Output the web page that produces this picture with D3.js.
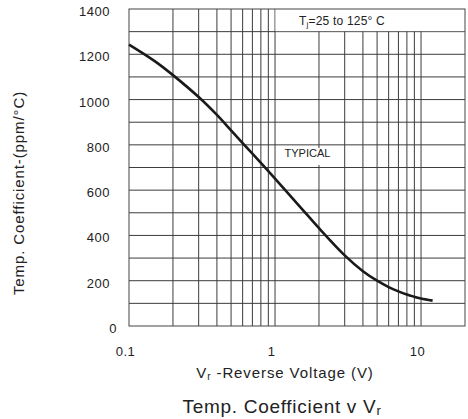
<!DOCTYPE html>
<html>
<head>
<meta charset="utf-8">
<script src="https://cdn.jsdelivr.net/npm/d3@7"></script>
<style>
  body { margin: 0; background: #fff; }
  text { font-family: "Liberation Sans", Arial, sans-serif; fill: #222; }
</style>
</head>
<body>
<div id="chart"></div>
<script>
// curve: reverse voltage (V) vs temp coefficient (ppm/°C)
const voltage = [0.1, 0.15, 0.2, 0.3, 0.4, 0.5, 0.6, 0.7, 0.8, 0.9, 1, 1.5, 2, 3, 4, 5, 6, 7, 8, 9, 10, 12];
const tempCoef = [1243, 1170, 1108, 1011, 932, 864, 808, 761, 720, 684, 651, 523, 432, 312, 242, 200, 172, 153, 139, 129, 121, 112];

const yTicks = [0, 200, 400, 600, 800, 1000, 1200, 1400];
const xTicks = [0.1, 1, 10];
const xGrid = [0.2, 0.3, 0.4, 0.5, 0.6, 0.7, 0.8, 0.9, 1, 2, 3, 4, 5, 6, 7, 8, 9, 10];
const yGrid = d3.range(100, 1400, 100);

const size = { width: 468, height: 419 };
const plot = { left: 129, right: 465, top: 9, bottom: 326 };

const svg = d3.select("#chart")
  .append("svg")
  .attr("width", size.width)
  .attr("height", size.height);

const x = d3.scaleLog().domain([0.1, 20]).range([plot.left, plot.right]);
const y = d3.scaleLinear().domain([0, 1400]).range([plot.bottom, plot.top]);

// grid
const grid = svg.append("g").attr("stroke", "#3c3c3c").attr("stroke-width", 1);

grid.selectAll(".hgrid")
    .data(yGrid)
  .enter().append("line")
    .attr("class", "hgrid")
    .attr("x1", plot.left).attr("x2", plot.right)
    .attr("y1", d => y(d)).attr("y2", d => y(d));

grid.selectAll(".vgrid")
    .data(xGrid)
  .enter().append("line")
    .attr("class", "vgrid")
    .attr("x1", d => x(d)).attr("x2", d => x(d))
    .attr("y1", plot.top).attr("y2", plot.bottom);

// label box at top right hides the grid behind it
svg.append("rect")
    .attr("x", x(1) + 0.5)
    .attr("y", y(1400))
    .attr("width", x(20) - x(1) - 0.5)
    .attr("height", y(1300) - y(1400) - 0.5)
    .attr("fill", "#fff");

svg.append("text")
    .attr("x", 299)
    .attr("y", y(1350) + 4.5)
    .attr("font-size", 12)
    .style("letter-spacing", "0.2px")
    .call(t => {
      t.append("tspan").text("T");
      t.append("tspan").attr("font-size", 8).attr("dy", 2).text("j");
      t.append("tspan").attr("dy", -2).text("=25 to 125° C");
    });

// TYPICAL label with white backing
svg.append("rect")
    .attr("x", 282).attr("y", 148)
    .attr("width", 49).attr("height", 17)
    .attr("fill", "#fff");

svg.append("text")
    .attr("x", 284.5)
    .attr("y", 157.3)
    .attr("font-size", 11)
    .text("TYPICAL");

// frame
svg.append("rect")
    .attr("x", plot.left).attr("y", plot.top)
    .attr("width", plot.right - plot.left)
    .attr("height", plot.bottom - plot.top)
    .attr("fill", "none")
    .attr("stroke", "#444")
    .attr("stroke-width", 1);

// curve
const line = d3.line()
    .curve(d3.curveCatmullRom.alpha(0.5))
    .x((d, i) => x(voltage[i]))
    .y(d => y(d));

svg.append("path")
    .datum(tempCoef)
    .attr("d", line)
    .attr("fill", "none")
    .attr("stroke", "#1a1a1a")
    .attr("stroke-width", 2.6);

// axes (labels only)
const yAxis = svg.append("g")
    .attr("transform", `translate(${plot.left},0)`)
    .call(d3.axisLeft(y).tickValues(yTicks).tickFormat(d3.format("d")).tickSize(0).tickPadding(19));

const xAxis = svg.append("g")
    .attr("transform", `translate(0,${plot.bottom})`)
    .call(d3.axisBottom(x).tickValues(xTicks).tickFormat(d3.format("")).tickSize(0).tickPadding(21));

[yAxis, xAxis].forEach(g => {
  g.select(".domain").remove();
  g.attr("font-family", null).attr("font-size", null);
  g.selectAll("text")
      .attr("font-size", 13)
      .style("letter-spacing", "0.5px")
      .attr("fill", "#222");
});

yAxis.selectAll(".tick text")
    .attr("dy", "0.5em")
    .attr("dx", d => d === 0 ? 7 : 0);

xAxis.selectAll(".tick text").attr("dx", -4);

// axis titles
svg.append("text")
    .attr("transform", "translate(24,193) rotate(-90)")
    .attr("text-anchor", "middle")
    .attr("font-size", 15)
    .style("letter-spacing", "0.9px")
    .text("Temp.  Coefficient-(ppm/°C)");

svg.append("text")
    .attr("x", 285)
    .attr("y", 378)
    .attr("text-anchor", "middle")
    .attr("font-size", 15)
    .style("letter-spacing", "0.9px")
    .call(t => {
      t.append("tspan").text("V");
      t.append("tspan").attr("font-size", 10).attr("dy", 2).text("r");
      t.append("tspan").attr("dy", -2).text(" -Reverse Voltage (V)");
    });

svg.append("text")
    .attr("x", 282)
    .attr("y", 413)
    .attr("text-anchor", "middle")
    .attr("font-size", 19)
    .style("letter-spacing", "0.7px")
    .call(t => {
      t.append("tspan").text("Temp. Coefficient v V");
      t.append("tspan").attr("font-size", 13).attr("dy", 2).text("r");
    });
</script>
</body>
</html>
